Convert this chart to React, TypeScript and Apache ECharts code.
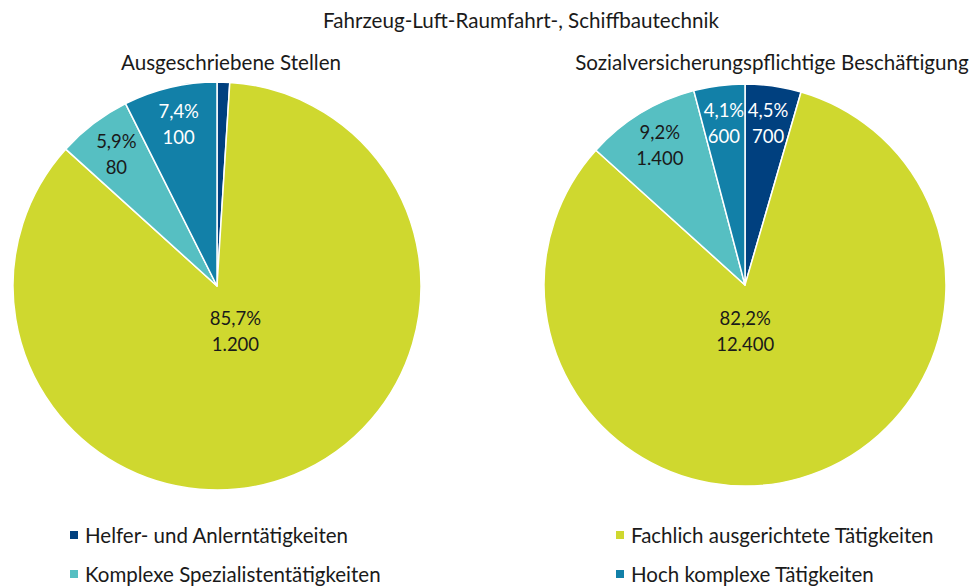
import React, { useEffect, useRef } from "react";
import * as echarts from "echarts";

const categories = [
  "Helfer- und Anlerntätigkeiten",
  "Fachlich ausgerichtete Tätigkeiten",
  "Komplexe Spezialistentätigkeiten",
  "Hoch komplexe Tätigkeiten",
];
const colors = ["#00407f", "#cfd82f", "#56bfc2", "#1280a8"];
const labelColors = ["#ffffff", "#1a1a1a", "#1a1a1a", "#ffffff"];

const mainTitle = "Fahrzeug-Luft-Raumfahrt-, Schiffbautechnik";
const pieTitles = ["Ausgeschriebene Stellen", "Sozialversicherungspflichtige Beschäftigung"];

// shares in percent
const stellenPct = [1.0, 85.7, 5.9, 7.4];
const stellenCount = [null, 1200, 80, 100];
const beschPct = [4.5, 82.2, 9.2, 4.1];
const beschCount = [700, 12400, 1400, 600];

const FONT = "Lato";

function fmtPct(v: number) {
  return v.toFixed(1).replace(".", ",") + "%";
}
function fmtCount(v: number) {
  return String(v).replace(/\B(?=(\d{3})+(?!\d))/g, ".");
}

function buildSeries(
  id: string,
  pct: number[],
  counts: (number | null)[],
  center: number[],
  r: number,
  bigPad: number[]
) {
  const base = {
    type: "pie",
    center,
    startAngle: 90,
    clockwise: true,
    avoidLabelOverlap: false,
    silent: true,
    labelLine: { show: false },
    emphasis: { disabled: true },
  };
  const slices = {
    ...base,
    id: id + "-slices",
    radius: [0, r],
    itemStyle: { borderColor: "#ffffff", borderWidth: 1.5 },
    label: { show: false },
    data: categories.map((name, i) => ({
      name,
      value: pct[i],
      itemStyle: { color: colors[i] },
    })),
  };
  const mkLabel = (i: number, show: boolean, pad?: number[]) => ({
    show,
    position: "inside",
    formatter: () =>
      counts[i] == null ? "" : fmtPct(pct[i]) + "\n" + fmtCount(counts[i] as number),
    color: labelColors[i],
    fontFamily: FONT,
    fontSize: 18.5,
    lineHeight: 26,
    padding: pad || 0,
  });
  const smallLabels = {
    ...base,
    id: id + "-small",
    radius: [r * 0.6, r],
    itemStyle: { color: "transparent" },
    data: categories.map((name, i) => ({
      name,
      value: pct[i],
      itemStyle: { color: "transparent", borderWidth: 0 },
      label: mkLabel(i, i !== 1 && counts[i] != null),
    })),
  };
  const bigLabels = {
    ...base,
    id: id + "-big",
    radius: [0, r * 0.45],
    itemStyle: { color: "transparent" },
    data: categories.map((name, i) => ({
      name,
      value: pct[i],
      itemStyle: { color: "transparent", borderWidth: 0 },
      label: mkLabel(i, i === 1, bigPad),
    })),
  };
  return [slices, smallLabels, bigLabels];
}

export default function App() {
  const ref = useRef<HTMLDivElement>(null);
  useEffect(() => {
    document.body.style.margin = "0";
    const chart = echarts.init(ref.current!, undefined, { renderer: "svg" });
    const titleStyle = { fontFamily: FONT, fontSize: 20.6, fill: "#1a1a1a" };
    const legendBase = {
      orient: "vertical",
      top: 524,
      padding: 0,
      height: 120,
      itemWidth: 10,
      itemHeight: 10,
      itemGap: 17,
      icon: "rect",
      selectedMode: false,
      textStyle: { fontFamily: FONT, fontSize: 20.5, color: "#1a1a1a", lineHeight: 22, padding: [0, 0, 0, 1] },
    };
    chart.setOption({
      animation: false,
      backgroundColor: "#ffffff",
      color: colors,
      graphic: [
        { type: "text", x: 521, y: 20, style: { ...titleStyle, text: mainTitle, align: "center", verticalAlign: "middle" } },
        { type: "text", x: 231, y: 62, style: { ...titleStyle, text: pieTitles[0], align: "center", verticalAlign: "middle" } },
        { type: "text", x: 772, y: 62, style: { ...titleStyle, text: pieTitles[1], align: "center", verticalAlign: "middle" } },
      ],
      legend: [
        { ...legendBase, data: [categories[0], categories[2]], left: 68 },
        { ...legendBase, data: [categories[1], categories[3]], left: 614 },
      ],
      series: [
        ...buildSeries("stellen", stellenPct, stellenCount, [217, 286], 204, [0, 0, 0, 0]),
        ...buildSeries("besch", beschPct, beschCount, [745, 285], 201, [0, 26, 0, 0]),
      ],
    });
    return () => chart.dispose();
  }, []);
  return <div ref={ref} style={{ width: 973, height: 588 }} />;
}
